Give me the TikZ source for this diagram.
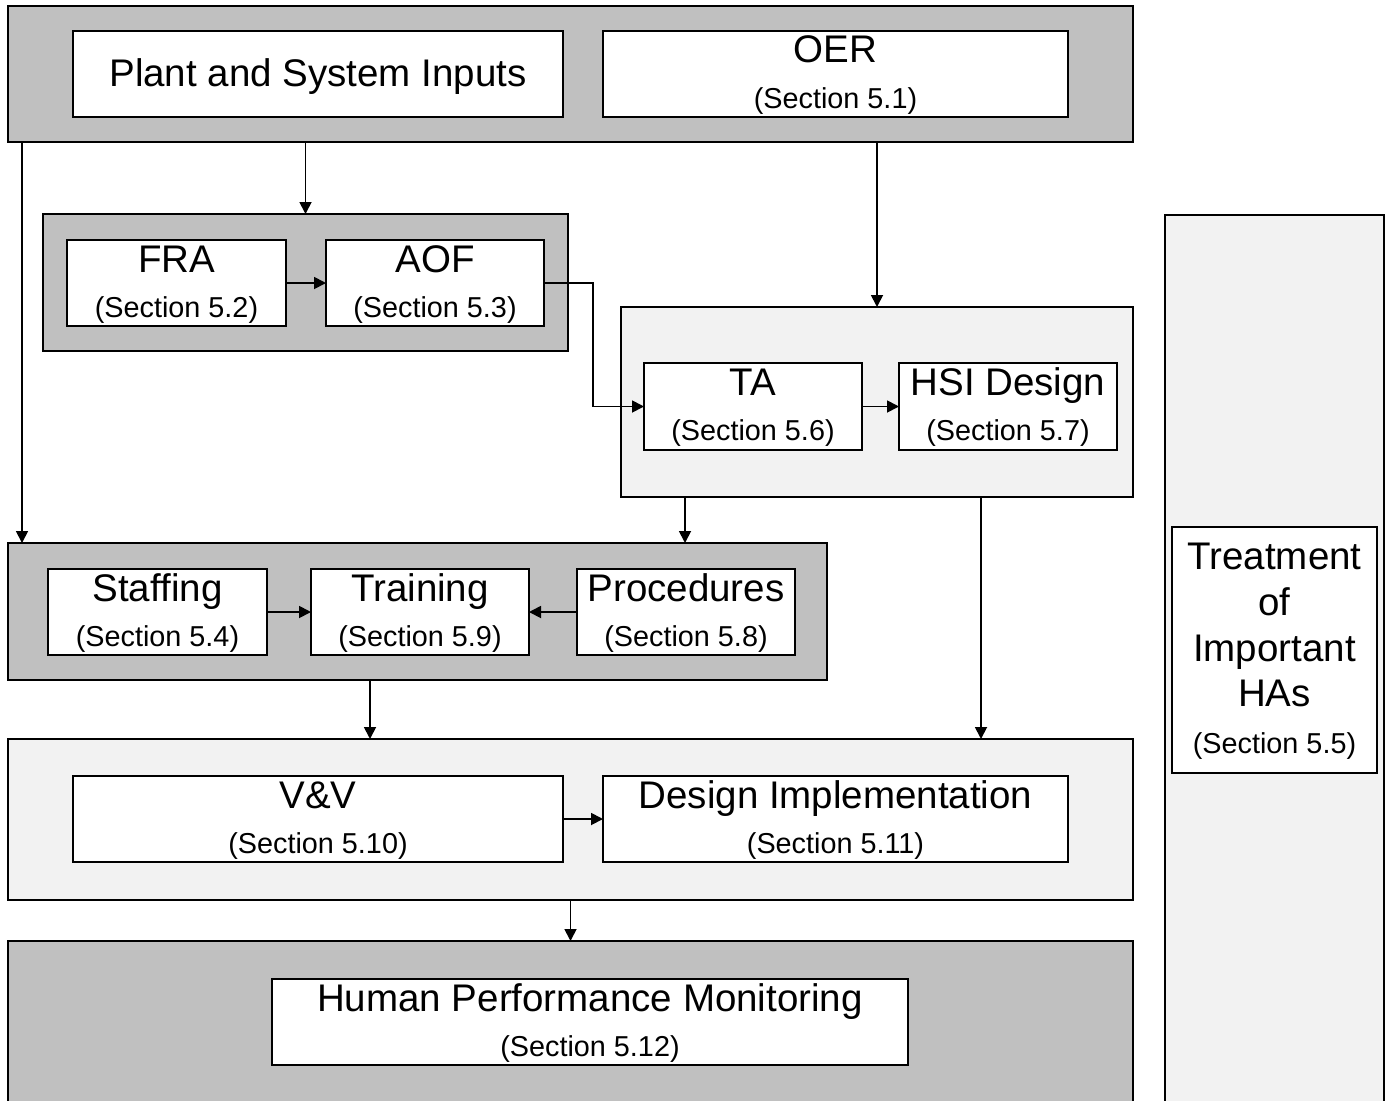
\documentclass[tikz,border=0pt]{standalone}
\usepackage{fontspec}
\setmainfont{Liberation Sans}
\usetikzlibrary{arrows.meta,calc}
\definecolor{darkfill}{RGB}{192,192,192}
\definecolor{lightfill}{RGB}{242,242,242}
\begin{document}
\begin{tikzpicture}[x=1pt,y=-1pt,
  frame/.style={draw=black,line width=1.7pt,rectangle,inner sep=0pt,outer sep=0pt,anchor=north west},
  darkgroup/.style={frame,fill=darkfill},
  lightgroup/.style={frame,fill=lightfill},
  item/.style={frame,fill=white},
  ttl/.style={anchor=base,inner sep=0pt,font=\fontsize{38.5}{45}\selectfont},
  sec/.style={anchor=base,inner sep=0pt,font=\fontsize{28.8}{34}\selectfont},
  arr/.style={line width=1.8pt,-{Triangle[length=12pt,width=12pt]}}
]
\useasboundingbox (0,0) rectangle (1385,1101);

% group boxes
\node[darkgroup,minimum width=1125,minimum height=136] (topO) at (8,6) {};
\node[darkgroup,minimum width=525,minimum height=137] (fraO) at (43,214) {};
\node[lightgroup,minimum width=512,minimum height=190] (taO) at (621,307) {};
\node[darkgroup,minimum width=819,minimum height=137] (staffO) at (8,543) {};
\node[lightgroup,minimum width=1125,minimum height=161] (vvO) at (8,739) {};
\node[darkgroup,minimum width=1125,minimum height=175] (hpmO) at (8,941) {};
\node[lightgroup,minimum width=219,minimum height=895] (trO) at (1165,215) {};

% item boxes
\node[item,minimum width=490,minimum height=86] (plant) at (73,31) {};
\node[item,minimum width=465,minimum height=86] (oer) at (603,31) {};
\node[item,minimum width=219,minimum height=86] (fra) at (67,240) {};
\node[item,minimum width=218,minimum height=86] (aof) at (326,240) {};
\node[item,minimum width=218,minimum height=87] (ta) at (644,363) {};
\node[item,minimum width=218,minimum height=87] (hsi) at (899,363) {};
\node[item,minimum width=219,minimum height=86] (staff) at (48,569) {};
\node[item,minimum width=218,minimum height=86] (train) at (311,569) {};
\node[item,minimum width=218,minimum height=86] (proc) at (577,569) {};
\node[item,minimum width=490,minimum height=86] (vv) at (73,776) {};
\node[item,minimum width=465,minimum height=86] (des) at (603,776) {};
\node[item,minimum width=636,minimum height=86] (hpm) at (272,979) {};
\node[item,minimum width=205,minimum height=246] (tr) at (1172,527) {};

% texts
\node[ttl] (plantT) at ($(plant.north)+(0,55)$) {Plant and System Inputs};
\node[ttl] (oerT) at ($(oer.north)+(0,31)$) {OER};
\node[sec] (oerS) at ($(oer.north)+(0,77)$) {(Section 5.1)};
\node[ttl] (fraT) at ($(fra.north)+(0,32)$) {FRA};
\node[sec] (fraS) at ($(fra.north)+(0,77)$) {(Section 5.2)};
\node[ttl] (aofT) at ($(aof.north)+(0,32)$) {AOF};
\node[sec] (aofS) at ($(aof.north)+(0,77)$) {(Section 5.3)};
\node[ttl] (taT) at ($(ta.north)+(0,32)$) {TA};
\node[sec] (taS) at ($(ta.north)+(0,77)$) {(Section 5.6)};
\node[ttl] (hsiT) at ($(hsi.north)+(0,32)$) {HSI Design};
\node[sec] (hsiS) at ($(hsi.north)+(0,77)$) {(Section 5.7)};
\node[ttl] (staffT) at ($(staff.north)+(0,32)$) {Staffing};
\node[sec] (staffS) at ($(staff.north)+(0,77)$) {(Section 5.4)};
\node[ttl] (trainT) at ($(train.north)+(0,32)$) {Training};
\node[sec] (trainS) at ($(train.north)+(0,77)$) {(Section 5.9)};
\node[ttl] (procT) at ($(proc.north)+(0,32)$) {Procedures};
\node[sec] (procS) at ($(proc.north)+(0,77)$) {(Section 5.8)};
\node[ttl] (vvT) at ($(vv.north)+(0,32)$) {V\&V};
\node[sec] (vvS) at ($(vv.north)+(0,77)$) {(Section 5.10)};
\node[ttl] (desT) at ($(des.north)+(0,32)$) {Design Implementation};
\node[sec] (desS) at ($(des.north)+(0,77)$) {(Section 5.11)};
\node[ttl] (hpmT) at ($(hpm.north)+(0,32)$) {Human Performance Monitoring};
\node[sec] (hpmS) at ($(hpm.north)+(0,77)$) {(Section 5.12)};
\node[ttl] (trT1) at ($(tr.north)+(0,42)$) {Treatment};
\node[ttl] (trT2) at ($(tr.north)+(0,88)$) {of};
\node[ttl] (trT3) at ($(tr.north)+(0,134)$) {Important};
\node[ttl] (trT4) at ($(tr.north)+(0,179)$) {HAs};
\node[sec] (trS) at ($(tr.north)+(0,226)$) {(Section 5.5)};

% connector points
\coordinate (c1a) at ($(topO.south west)+(14,0)$);
\coordinate (c1b) at ($(staffO.north west)+(14,0)$);
\coordinate (c7a) at ($(taO.south west)+(64,0)$);
\coordinate (c8a) at ($(taO.south west)+(360,0)$);
\coordinate (c10a) at ($(staffO.south west)+(362,0)$);

% connectors
\draw[arr] (c1a) -- (c1b);
\draw[arr] (topO.south -| fraO.north) -- (fraO.north);
\draw[arr] (topO.south -| taO.north) -- (taO.north);
\draw[arr] (fra.east) -- (aof.west);
\draw[arr] (aof.east) -- ++(49,0) |- (ta.west);
\draw[arr] (ta.east) -- (hsi.west);
\draw[arr] (c7a) -- (c7a |- staffO.north);
\draw[arr] (c8a) -- (c8a |- vvO.north);
\draw[arr] (staff.east) -- (train.west);
\draw[arr] (proc.west) -- (train.east);
\draw[arr] (c10a) -- (c10a |- vvO.north);
\draw[arr] (vv.east) -- (des.west);
\draw[arr] (vvO.south) -- (hpmO.north);
\end{tikzpicture}
\end{document}
